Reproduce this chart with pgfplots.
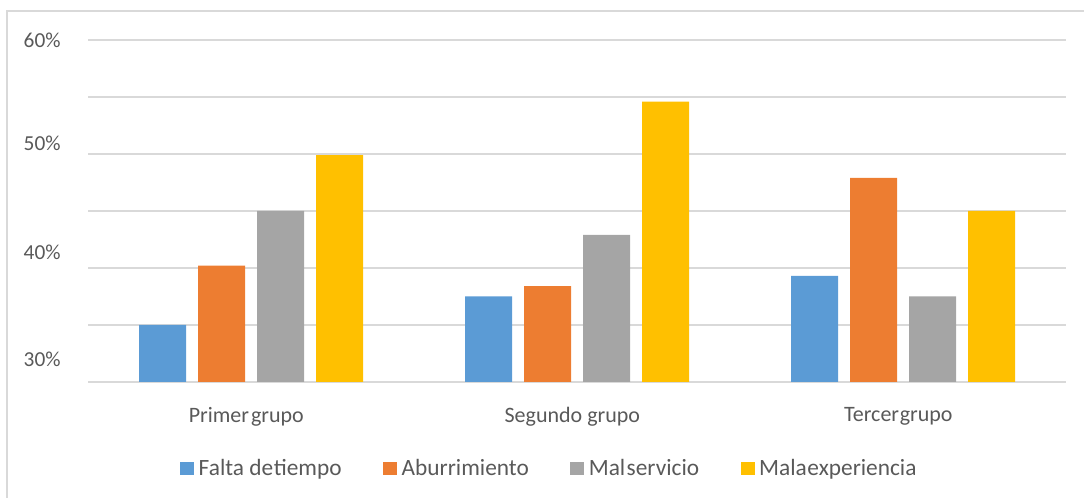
\documentclass[border=0pt]{standalone}
\usepackage{pgfplots}
\pgfplotsset{compat=1.18}
\usepackage{fontspec}
\setmainfont{Carlito}

\definecolor{cBlue}{HTML}{5B9BD5}
\definecolor{cOrange}{HTML}{ED7D31}
\definecolor{cGray}{HTML}{A5A5A5}
\definecolor{cYellow}{HTML}{FFC000}
\definecolor{txt}{HTML}{595959}
\definecolor{gridc}{HTML}{D9D9D9}

\begin{document}
\begin{tikzpicture}
% page frame
\path[use as bounding box] (0,0) rectangle (813pt,373.5pt);
\draw[gridc, line width=1.1pt] (5.4pt,-2pt) -- (5.4pt,365.25pt) -- (815pt,365.25pt);
\begin{axis}[
  at={(66pt,87pt)}, anchor=south west,
  scale only axis, width=733.5pt, height=256.5pt,
  xmin=-0.5, xmax=2.5, ymin=30, ymax=60,
  ybar=9pt, bar width=35.25pt,
  axis line style={draw=none},
  tick style={draw=none},
  font=\fontsize{16.5}{19}\selectfont\color{txt},
  xtick={0,1,2},
  xticklabels={Primer\hspace{1.5pt}grupo, Segundo grupo, Tercer\hspace{0.5pt}grupo},
  xticklabel style={yshift=-11pt, xshift=-3.5pt, font=\fontsize{16.5}{19}\selectfont\color{txt}},
  ytick={32.0,41.4,50.9,60},
  yticklabels={30\%,40\%,50\%,60\%},
  yticklabel style={xshift=-17pt, font=\fontsize{16}{19}\selectfont\color{txt}},
  minor ytick={30,35,...,60},
  yminorgrids=true, ymajorgrids=false,
  minor grid style={gridc, line width=1.1pt},
  legend columns=4,
  legend style={at={(0.472,-0.252)}, anchor=center, draw=none, fill=none,
    font=\fontsize{17.5}{20}\selectfont\color{txt},
    /tikz/every even column/.append style={column sep=29pt},
    /tikz/every odd column/.append style={column sep=1.5pt}},
  legend image code/.code={\fill[#1] (0pt,-5pt) rectangle (10.5pt,5pt);},
]
\addplot[fill=cBlue, draw=none] coordinates {(0,35.0) (1,37.5) (2,39.3)};
\addplot[fill=cOrange, draw=none] coordinates {(0,40.2) (1,38.4) (2,47.9)};
\addplot[fill=cGray, draw=none] coordinates {(0,45.0) (1,42.9) (2,37.5)};
\addplot[fill=cYellow, draw=none] coordinates {(0,49.9) (1,54.6) (2,45.0)};
\legend{Falta de\hspace{0.5pt}tiempo, Aburrimiento, Mal\hspace{1pt}servicio, Mala\hspace{0.5pt}experiencia}
\end{axis}
\end{tikzpicture}
\end{document}
